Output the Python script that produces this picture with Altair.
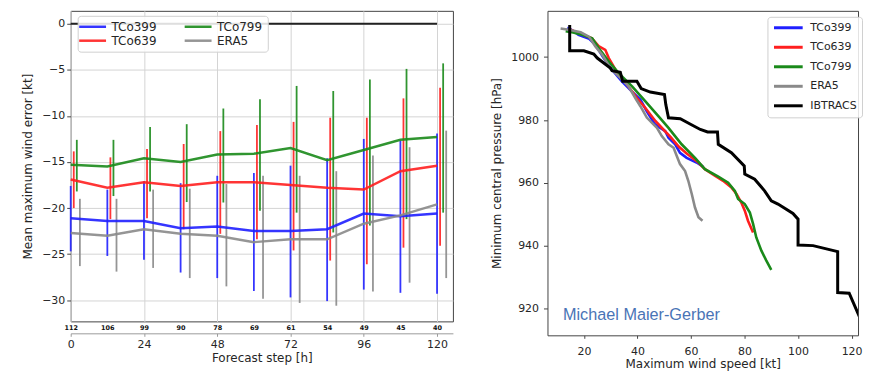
import altair as alt
import pandas as pd

# ---------------- left panel data ----------------
steps = [0, 12, 24, 36, 48, 60, 72, 84, 96, 108, 120]
n_cases = [112, 106, 99, 90, 78, 69, 61, 54, 49, 45, 40]

mean_tco399 = [-21.1, -21.4, -21.4, -22.2, -22.0, -22.5, -22.5, -22.3, -20.6, -20.9, -20.6]
mean_tco639 = [-16.9, -17.8, -17.2, -17.6, -17.2, -17.2, -17.5, -17.8, -18.0, -16.0, -15.4]
mean_tco799 = [-15.3, -15.5, -14.6, -15.0, -14.2, -14.1, -13.5, -14.8, -13.7, -12.6, -12.3]
mean_era5 = [-22.7, -23.0, -22.3, -22.8, -23.0, -23.7, -23.4, -23.4, -21.7, -20.8, -19.6]

hi_tco399 = [-17.6, -18.0, -17.1, -17.3, -16.5, -16.2, -15.4, -14.6, -12.5, -12.7, -11.9]
lo_tco399 = [-24.7, -25.2, -25.6, -27.0, -27.6, -29.0, -29.7, -30.1, -28.85, -29.2, -29.3]
hi_tco639 = [-13.85, -14.5, -13.6, -13.05, -11.65, -11.0, -10.65, -10.2, -10.2, -8.1, -6.95]
lo_tco639 = [-20.0, -21.2, -21.1, -22.3, -22.8, -23.4, -24.6, -25.7, -26.1, -24.3, -24.1]
hi_tco799 = [-12.6, -12.6, -11.2, -10.9, -9.2, -8.2, -6.75, -7.3, -6.05, -4.9, -4.3]
lo_tco799 = [-18.2, -18.7, -18.2, -19.35, -19.4, -20.3, -20.5, -22.65, -21.9, -21.2, -20.5]
hi_era5 = [-19.0, -19.0, -18.0, -17.9, -17.4, -16.5, -16.5, -16.0, -14.3, -13.4, -11.6]
lo_era5 = [-26.3, -26.9, -26.5, -27.6, -28.5, -29.85, -30.3, -30.6, -29.05, -28.1, -27.6]

# ---------------- right panel data (max wind [kt], min pressure [hPa]) ----------------
wind_tco399 = [13.8, 15.5, 18.0, 22.0, 24.3, 27.4, 30.5, 34.2, 37.9, 41.1, 43.5, 46.6, 50.4, 51.6,
               54.1, 55.9, 58.4, 62.1, 64.5]
pres_tco399 = [1009.4, 1008.6, 1007.1, 1005.8, 1003.9, 999.7, 996.0, 992.3, 989.1, 986.5, 982.8,
               978.6, 976.5, 974.4, 972.3, 969.6, 968.0, 966.5, 965.2]

wind_tco639 = [14.2, 17.0, 20.0, 23.0, 25.5, 28.0, 29.3, 31.8, 36.1, 39.8, 42.9, 46.7, 49.7, 52.5,
               55.5, 58.5, 62.8, 65.2, 68.9, 72.0, 75.1, 77.0, 78.8, 80.1, 81.3, 83.2]
pres_tco639 = [1009.0, 1008.0, 1007.0, 1006.0, 1003.5, 1002.3, 999.7, 996.0, 991.3, 987.0, 983.9,
               979.7, 977.0, 974.5, 971.5, 969.3, 966.5, 964.4, 962.3, 960.7, 958.6, 956.5, 953.8,
               951.2, 948.0, 944.3]

wind_tco799 = [13.2, 16.0, 19.4, 23.1, 25.6, 29.3, 33.0, 38.0, 42.9, 47.9, 51.6, 56.5, 61.5, 65.2,
               70.2, 73.9, 76.4, 77.6, 80.1, 82.0, 83.2, 84.4, 86.3, 88.1, 90.0]
pres_tco799 = [1008.2, 1007.8, 1007.1, 1006.0, 1002.8, 998.6, 994.9, 990.7, 986.0, 981.2, 977.5,
               972.3, 968.0, 964.4, 962.0, 960.1, 957.5, 954.9, 953.3, 950.6, 947.0, 942.7, 938.5,
               935.4, 932.4]

wind_era5 = [11.3, 14.4, 18.8, 21.9, 24.3, 26.8, 29.9, 33.6, 36.7, 39.2, 41.1, 43.5, 46.0, 47.3,
             49.1, 51.6, 53.5, 54.7, 55.9, 57.8, 59.0, 60.3, 61.5, 62.8, 64.3]
pres_era5 = [1009.1, 1008.7, 1007.9, 1006.5, 1003.4, 1000.8, 996.5, 993.4, 990.7, 987.0, 984.4,
             980.8, 978.6, 977.5, 974.9, 972.3, 971.2, 968.6, 966.0, 963.8, 960.7, 956.5, 952.2,
             949.1, 948.0]

wind_ibtracs = [14.7, 14.7, 20.0, 23.7, 25.0, 29.9, 30.5, 33.6, 34.5, 39.8, 41.4, 44.8, 50.1, 50.6,
                51.6, 56.0, 60.0, 63.5, 66.2, 69.9, 70.2, 75.1, 79.9, 80.1, 83.8, 87.5, 90.0, 92.5,
                98.1, 100.0, 100.0, 105.6, 114.8, 114.8, 119.1, 124.2]
pres_ibtracs = [1010.2, 1002.0, 1002.0, 1001.0, 999.7, 996.5, 995.7, 995.2, 992.3, 992.3, 990.0,
                988.9, 988.1, 984.9, 980.7, 980.4, 978.6, 977.0, 976.2, 976.2, 972.3, 969.6, 965.4,
                962.8, 961.2, 957.5, 954.3, 953.3, 950.3, 948.5, 940.3, 940.1, 938.2, 925.2, 925.0,
                915.0]

credit = "Michael Maier-Gerber"

# ---------------- styling ----------------
C_BLUE = "#1f1fff"
C_RED = "#ff1f1f"
C_GREEN = "#1a8a1a"
C_GRAY = "#8a8a8a"
C_BLACK = "#000000"
FONT = "DejaVu Sans"
TXT = "#262626"

models = ["TCo399", "TCo639", "TCo799", "ERA5"]
bar_offset = {"TCo399": 0.0, "TCo639": 1.0, "TCo799": 2.0, "ERA5": 3.0}

line_rows, bar_rows = [], []
for m, mean, lo, hi in [("TCo399", mean_tco399, lo_tco399, hi_tco399),
                        ("TCo639", mean_tco639, lo_tco639, hi_tco639),
                        ("TCo799", mean_tco799, lo_tco799, hi_tco799),
                        ("ERA5", mean_era5, lo_era5, hi_era5)]:
    for i, s in enumerate(steps):
        line_rows.append({"model": m, "step": s, "value": mean[i]})
        bar_rows.append({"model": m, "xpos": s + bar_offset[m], "lo": lo[i], "hi": hi[i]})
df_line = pd.DataFrame(line_rows)
df_bar = pd.DataFrame(bar_rows)
df_cnt = pd.DataFrame({"step": steps, "n": n_cases})
df_zero = pd.DataFrame({"x": [steps[0]], "x2": [steps[-1]], "y": [0]})

xs_l = alt.Scale(domain=[0, 125.2], nice=False, zero=False)
ys_l = alt.Scale(domain=[-32.3, 1.4], nice=False, zero=False)
col_l = alt.Scale(domain=["TCo399", "TCo799", "TCo639", "ERA5"],
                  range=[C_BLUE, C_GREEN, C_RED, C_GRAY])

legend_l = alt.Legend(
    title=None, orient="none", legendX=7, legendY=5, columns=2, direction="horizontal",
    symbolType="M-3,0H3", symbolSize=81, symbolStrokeWidth=2.5, symbolOffset=4,
    labelOffset=13, labelFontSize=12, labelColor=TXT, labelFont=FONT,
    columnPadding=22, rowPadding=2, padding=5,
    fillColor="rgba(255,255,255,0.85)", strokeColor="#d0d0d0", cornerRadius=3,
)

y_axis_l = alt.Axis(values=[0, -5, -10, -15, -20, -25, -30], grid=True, gridColor="#d4d4d4",
                    title="Mean maximum wind error [kt]", tickSize=4, labelPadding=2,
                    titlePadding=7, domain=False, tickColor="#444", labelFontSize=11,
                    titleFontSize=12, labelColor=TXT, titleColor=TXT, titleFontWeight="normal")

zero_rule = alt.Chart(df_zero).mark_rule(color="#222222", strokeWidth=2).encode(
    x=alt.X("x:Q", scale=xs_l, axis=None),
    x2="x2:Q",
    y=alt.Y("y:Q", scale=ys_l, axis=y_axis_l),
)

grid_axis = alt.Axis(values=[0, 24, 48, 72, 96, 120], grid=True, gridColor="#d4d4d4",
                     labels=False, ticks=False, domain=False, title=None, orient="bottom")
bars = alt.Chart(df_bar).mark_rule(strokeWidth=1.8, opacity=0.9).encode(
    x=alt.X("xpos:Q", scale=xs_l, axis=grid_axis),
    y=alt.Y("lo:Q", scale=ys_l, axis=y_axis_l),
    y2="hi:Q",
    color=alt.Color("model:N", scale=col_l, legend=legend_l),
)

main_axis = alt.Axis(values=[0, 24, 48, 72, 96, 120], offset=12, grid=False, orient="bottom",
                     title="Forecast step [h]", tickSize=3, labelPadding=2, titlePadding=3,
                     domainColor="#9a9a9a", tickColor="#9a9a9a", labelFlush=False,
                     labelFontSize=11, titleFontSize=12, labelColor=TXT, titleColor=TXT,
                     titleFontWeight="normal")
lines_l = alt.Chart(df_line).mark_line(strokeWidth=2.5, opacity=0.9).encode(
    x=alt.X("step:Q", scale=xs_l, axis=main_axis),
    y=alt.Y("value:Q", scale=ys_l, axis=y_axis_l),
    color=alt.Color("model:N", scale=col_l, legend=legend_l),
    detail="model:N",
)

cnt_expr = "".join(f"datum.value == {s} ? '{n}' : " for s, n in zip(steps, n_cases)) + "''"
cnt_axis = alt.Axis(values=steps, labelExpr=cnt_expr, ticks=False, domain=False, grid=False,
                    labelFontSize=6.5, labelFontWeight="bold", labelPadding=3, title=None,
                    orient="bottom", labelFlush=False, labelColor="#111")
counts = alt.Chart(df_cnt).mark_point(opacity=0).encode(
    x=alt.X("step:Q", scale=xs_l, axis=cnt_axis),
)

left = alt.layer(zero_rule, bars, lines_l, counts).resolve_axis(x="independent").properties(
    width=384, height=312)

# ---------------- right panel ----------------
r_rows = []
for m, w, p in [("TCo399", wind_tco399, pres_tco399), ("TCo639", wind_tco639, pres_tco639),
                ("TCo799", wind_tco799, pres_tco799), ("ERA5", wind_era5, pres_era5),
                ("IBTRACS", wind_ibtracs, pres_ibtracs)]:
    for i in range(len(w)):
        r_rows.append({"model": m, "wind": w[i], "pres": p[i], "idx": i})
df_r = pd.DataFrame(r_rows)

xs_r = alt.Scale(domain=[6.4, 122.4], nice=False, zero=False)
ys_r = alt.Scale(domain=[911.6, 1014.7], nice=False, zero=False)
col_r = alt.Scale(domain=["TCo399", "TCo639", "TCo799", "ERA5", "IBTRACS"],
                  range=[C_BLUE, C_RED, C_GREEN, C_GRAY, C_BLACK])
legend_r = alt.Legend(
    title=None, orient="none", legendX=221, legendY=6, direction="vertical",
    symbolType="M-3.2,0H3.2", symbolSize=81, symbolStrokeWidth=3, symbolOffset=10,
    labelOffset=16, labelFontSize=11, labelColor=TXT, labelFont=FONT,
    rowPadding=7.6, padding=5,
    fillColor="rgba(255,255,255,0.85)", strokeColor="#d0d0d0", cornerRadius=3,
)
x_axis_r = alt.Axis(values=[20, 40, 60, 80, 100, 120], grid=False, title="Maximum wind speed [kt]",
                    tickSize=3, labelPadding=7, titlePadding=2, domain=False, tickColor="#444",
                    labelFontSize=11, titleFontSize=12, labelColor=TXT, titleColor=TXT,
                    titleFontWeight="normal")
y_axis_r = alt.Axis(values=[920, 940, 960, 980, 1000], format="d", grid=False,
                    title="Minimum central pressure [hPa]", tickSize=4, labelPadding=5,
                    titlePadding=7, domain=False, tickColor="#444", labelFontSize=11,
                    titleFontSize=12, labelColor=TXT, titleColor=TXT, titleFontWeight="normal")

r_layers = []
for m in ["TCo399", "TCo639", "TCo799", "ERA5", "IBTRACS"]:
    sw = 3 if m == "IBTRACS" else 2.6
    r_layers.append(
        alt.Chart(df_r).transform_filter(alt.datum.model == m)
        .mark_line(strokeWidth=sw, clip=True)
        .encode(
            x=alt.X("wind:Q", scale=xs_r, axis=x_axis_r),
            y=alt.Y("pres:Q", scale=ys_r, axis=y_axis_r),
            color=alt.Color("model:N", scale=col_r, legend=legend_r),
            order=alt.Order("idx:Q"),
        )
    )
df_credit = pd.DataFrame({"wind": [12.2], "pres": [918.0], "t": [credit]})
credit_txt = alt.Chart(df_credit).mark_text(
    align="left", baseline="middle", font="Liberation Sans", fontSize=16.3, color="#4a74b6"
).encode(
    x=alt.X("wind:Q", scale=xs_r, axis=x_axis_r),
    y=alt.Y("pres:Q", scale=ys_r, axis=y_axis_r),
    text="t:N",
)
right = alt.layer(*r_layers, credit_txt).properties(width=312, height=326)

chart = alt.hconcat(left, right, spacing=36).resolve_scale(color="independent").resolve_legend(
    color="independent"
).properties(
    padding={"left": 13, "top": 1, "right": 0, "bottom": 0}
).configure(font=FONT).configure_view(stroke="#444444", strokeWidth=1)

chart.save("out.html", embed_options={"renderer": "svg", "actions": False})
